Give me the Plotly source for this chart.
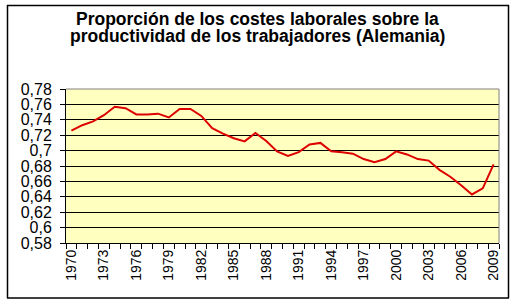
import plotly.graph_objects as go

years = list(range(1970, 2010))
values = [0.726, 0.733, 0.738, 0.746, 0.757, 0.755, 0.747, 0.747, 0.748, 0.743,
          0.754, 0.754, 0.745, 0.729, 0.722, 0.716, 0.712, 0.723, 0.7125, 0.699,
          0.693, 0.698, 0.708, 0.710, 0.699, 0.698, 0.696, 0.689, 0.685, 0.689,
          0.699, 0.695, 0.689, 0.687, 0.675, 0.666, 0.655, 0.643, 0.651, 0.682]

x_tick_years = list(range(1970, 2010, 3))
x_tick_labels = [str(y) for y in x_tick_years]
y_tick_vals = [0.58, 0.60, 0.62, 0.64, 0.66, 0.68, 0.70, 0.72, 0.74, 0.76, 0.78]
y_tick_labels = ["0,58", "0,6", "0,62", "0,64", "0,66", "0,68", "0,7", "0,72", "0,74", "0,76", "0,78"]
title_lines = ["Proporción de los costes laborales sobre la",
               "productividad de los trabajadores (Alemania)"]

fig = go.Figure()
fig.add_trace(go.Scatter(x=years, y=values, mode="lines",
                         line=dict(color="#DD0000", width=2), hoverinfo="skip"))

L, R, T, B = 66, 19, 89, 63
W, H = 518, 306
pw, ph = W - L - R, H - T - B


def px_x(px):
    return (px - L) / pw


def px_y(py):
    return (H - B - py) / ph


FONT = "Arial, Liberation Sans, sans-serif"
annotations = []
for i, line in enumerate(title_lines):
    annotations.append(dict(text=line, xref="paper", yref="paper",
                            x=px_x(257), y=px_y(19 + 16.5 * i),
                            xanchor="center", yanchor="middle", showarrow=False,
                            font=dict(size=17.5, family=FONT, color="black", weight="bold")))

fig.update_layout(
    width=W, height=H, autosize=False,
    margin=dict(l=L, r=R, t=T, b=B, autoexpand=False),
    paper_bgcolor="white",
    plot_bgcolor="#FFFFC0",
    showlegend=False,
    font=dict(family=FONT, color="black"),
    annotations=annotations,
    xaxis=dict(range=[1969.5, 2009.5], tickmode="array", tickvals=x_tick_years,
               ticktext=x_tick_labels, tickangle=-90, ticks="", showgrid=False,
               zeroline=False, showline=True, linecolor="black", linewidth=1,
               tickfont=dict(size=14),
               minor=dict(tickmode="linear", tick0=1969.5, dtick=1, ticks="outside",
                          ticklen=5, tickcolor="black", showgrid=False)),
    yaxis=dict(range=[0.58, 0.78], tickmode="array", tickvals=y_tick_vals,
               ticktext=y_tick_labels, ticks="outside", ticklen=5, tickcolor="black",
               ticklabelstandoff=5,
               showgrid=True, gridcolor="black", gridwidth=1, zeroline=False,
               showline=True, linecolor="black", linewidth=1, tickfont=dict(size=16)),
    shapes=[
        dict(type="line", xref="paper", yref="paper", x0=0, x1=1, y0=1, y1=1,
             line=dict(color="#808080", width=1), layer="above"),
        dict(type="line", xref="paper", yref="paper", x0=1, x1=1, y0=0, y1=1,
             line=dict(color="#808080", width=1), layer="above"),
        dict(type="line", xref="paper", yref="paper", x0=px_x(7), x1=px_x(509),
             y0=px_y(5.5), y1=px_y(5.5), line=dict(color="black", width=1.5)),
        dict(type="line", xref="paper", yref="paper", x0=px_x(7), x1=px_x(509),
             y0=px_y(298), y1=px_y(298), line=dict(color="black", width=1.5)),
        dict(type="line", xref="paper", yref="paper", x0=px_x(7.5), x1=px_x(7.5),
             y0=px_y(5), y1=px_y(298), line=dict(color="black", width=1.5)),
        dict(type="line", xref="paper", yref="paper", x0=px_x(508.5), x1=px_x(508.5),
             y0=px_y(5), y1=px_y(298), line=dict(color="black", width=1.5)),
    ],
)

fig.write_html("out.html", config={"responsive": False})
